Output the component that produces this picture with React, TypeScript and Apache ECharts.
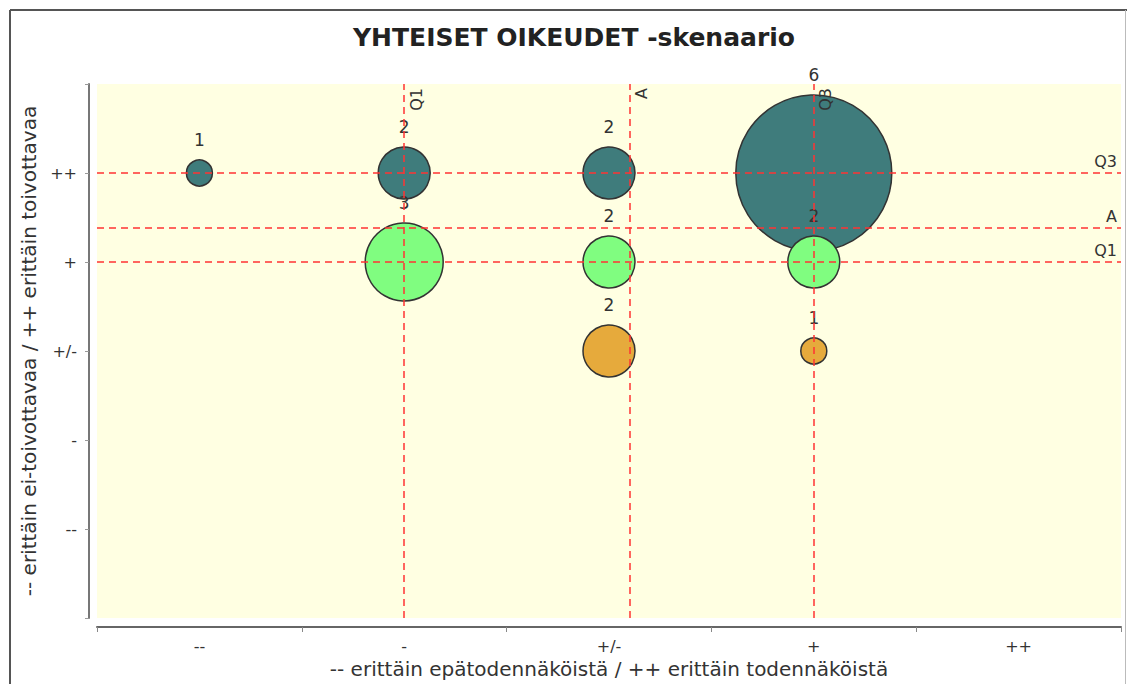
import React, { useEffect, useRef } from "react";
import * as echarts from "echarts";

const TITLE = "YHTEISET OIKEUDET -skenaario";
const X_NAME = "-- erittäin epätodennäköistä / ++ erittäin todennäköistä";
const Y_NAME = "-- erittäin ei-toivottavaa / ++ erittäin toivottavaa";

// scale categories, from lowest to highest
const categories = ["--", "-", "+/-", "+", "++"];

// counts per x category (index in categories) for each desirability row
const rowVeryDesirable = [1, 2, 2, 6, 0]; // y = "++"
const rowDesirable = [0, 3, 2, 2, 0]; // y = "+"
const rowNeutral = [0, 0, 2, 1, 0]; // y = "+/-"

// reference lines (quartiles and mean)
const xQ1 = 2;
const xMean = 3.095;
const xQ3 = 4;
const yQ1 = 4;
const yMean = 4.381;
const yQ3 = 5;

const COLORS = { teal: "#3f7c7c", green: "#80fd80", orange: "#e6aa3c" };

function toPoints(row: number[], yCat: string) {
  const y = categories.indexOf(yCat) + 1;
  const pts: number[][] = [];
  row.forEach((n, i) => {
    if (n > 0) pts.push([i + 1, y, n]);
  });
  return pts;
}

export default function App() {
  const ref = useRef<HTMLDivElement>(null);
  useEffect(() => {
    if (!ref.current) return;
    const chart = echarts.init(ref.current, null, { renderer: "svg" });
    const font = "DejaVu Sans";
    const bubble = (name: string, data: number[][], color: string, z: number) => ({
      name,
      type: "scatter",
      xAxisIndex: 1,
      yAxisIndex: 0,
      z,
      data,
      symbolSize: (v: number[]) => v[2] * 26,
      itemStyle: { color, borderColor: "#333", borderWidth: 1.5, opacity: 1 },
      label: {
        show: true,
        position: "top",
        distance: 11,
        formatter: (p: any) => String(p.value[2]),
        color: "#333",
        fontSize: 17,
        fontFamily: font,
      },
    });
    const lineLabel = { color: "#333", fontSize: 16, fontFamily: font, distance: 4 };
    chart.setOption({
      animation: false,
      textStyle: { fontFamily: font },
      title: {
        text: TITLE,
        left: 569,
        textAlign: "center",
        top: 20,
        textStyle: { fontSize: 25, fontWeight: "bold", color: "#222", fontFamily: font },
      },
      graphic: [
        { type: "line", shape: { x1: 10, y1: 10, x2: 1127, y2: 10 }, style: { stroke: "#555", lineWidth: 2 } },
        { type: "line", shape: { x1: 10, y1: 10, x2: 10, y2: 684 }, style: { stroke: "#555", lineWidth: 2 } },
        { type: "line", shape: { x1: 1125.5, y1: 10, x2: 1125.5, y2: 684 }, style: { stroke: "#bbb", lineWidth: 1 } },
      ],
      grid: {
        left: 97,
        right: 6,
        top: 84,
        bottom: 66,
        show: true,
        backgroundColor: "#ffffe2",
        borderWidth: 0,
      },
      xAxis: [
        {
          type: "category",
          position: "bottom",
          data: categories,
          boundaryGap: true,
          offset: 9,
          name: X_NAME,
          nameLocation: "middle",
          nameGap: 30,
          nameTextStyle: { fontSize: 20, color: "#333", fontFamily: font },
          axisLine: { onZero: false, lineStyle: { color: "#666", width: 2 } },
          axisTick: { show: true, length: 5, lineStyle: { color: "#888" } },
          axisLabel: { color: "#333", fontSize: 16, margin: 11, fontFamily: font },
          splitLine: { show: false },
        },
        {
          type: "value",
          position: "bottom",
          min: 0.5,
          max: 5.5,
          show: false,
          splitLine: { show: false },
        },
      ],
      yAxis: {
        type: "value",
        min: 0,
        max: 6,
        interval: 1,
        offset: 8,
        name: Y_NAME,
        nameLocation: "middle",
        nameGap: 40,
        nameTextStyle: { fontSize: 20, color: "#333", fontFamily: font },
        axisLine: { show: true, onZero: false, lineStyle: { color: "#777", width: 2 } },
        axisTick: { show: true, length: 4, lineStyle: { color: "#999" } },
        axisLabel: {
          color: "#333",
          fontSize: 16,
          margin: 12,
          fontFamily: font,
          formatter: (v: number) => (v >= 1 && v <= 5 ? categories[v - 1] : ""),
        },
        splitLine: { show: false },
      },
      series: [
        bubble("++", toPoints(rowVeryDesirable, "++"), COLORS.teal, 2),
        bubble("+", toPoints(rowDesirable, "+"), COLORS.green, 3),
        bubble("+/-", toPoints(rowNeutral, "+/-"), COLORS.orange, 3),
        {
          name: "refs",
          type: "scatter",
          xAxisIndex: 1,
          yAxisIndex: 0,
          z: 10,
          data: [],
          markLine: {
            silent: true,
            symbol: "none",
            animation: false,
            lineStyle: { color: "#ff3333", type: [7, 5], width: 1.5 },
            data: [
              { xAxis: xQ1, label: { ...lineLabel, formatter: "Q1", position: "insideEndBottom" } },
              { xAxis: xMean, label: { ...lineLabel, formatter: "A", position: "insideEndBottom" } },
              { xAxis: xQ3, label: { ...lineLabel, formatter: "Q3", position: "insideEndBottom" } },
              { yAxis: yQ1, label: { ...lineLabel, formatter: "Q1", position: "insideEndTop" } },
              { yAxis: yMean, label: { ...lineLabel, formatter: "A", position: "insideEndTop" } },
              { yAxis: yQ3, label: { ...lineLabel, formatter: "Q3", position: "insideEndTop" } },
            ],
          },
        },
      ],
    });
    return () => chart.dispose();
  }, []);
  return (
    <div
      ref={ref}
      style={{ position: "absolute", left: 0, top: 0, width: 1127, height: 684, background: "#fff" }}
    />
  );
}
